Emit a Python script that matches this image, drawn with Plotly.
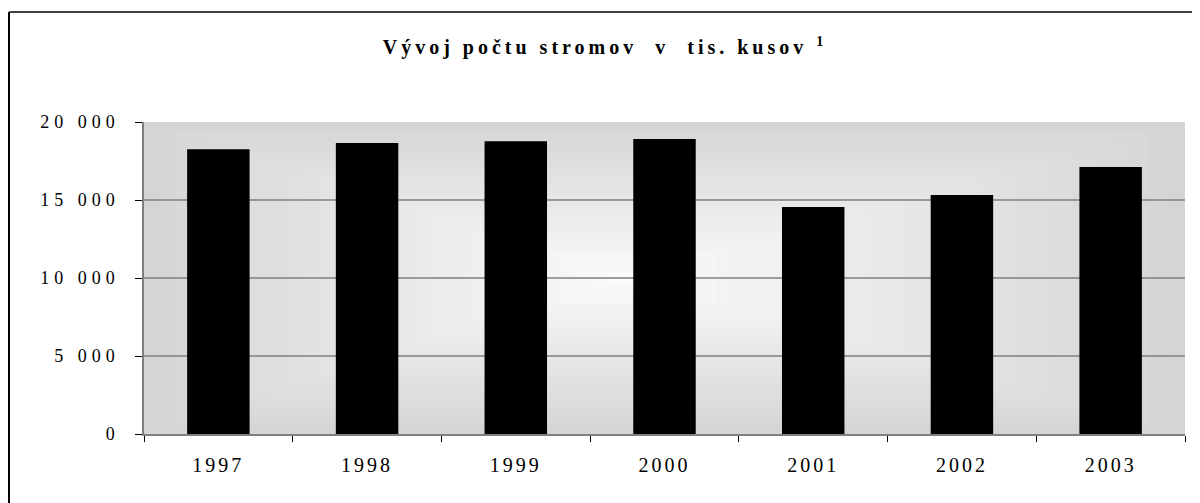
import plotly.graph_objects as go

years = ["1997", "1998", "1999", "2000", "2001", "2002", "2003"]
trees_thousands = [18250, 18650, 18760, 18910, 14550, 15320, 17110]
y_tick_values = [0, 5000, 10000, 15000, 20000]
y_tick_labels = ["0", "5 000", "10 000", "15 000", "20 000"]
title_text = "Vývoj počtu stromov  v  tis. kusov <sup>1</sup>"

W, H = 1200, 503
OFF = 8  # page body margin offset
SX0, SX1, SY0, SY1 = 144, 1185, 122, 434
ML, MT = SX0 - OFF, SY0 - OFF
MR, MB = W - (SX1 - OFF), H - (SY1 - OFF)
PW, PH = W - ML - MR, H - MT - MB
FONT = "Liberation Serif"


def spaced(s, ls):
    return f'<span style="letter-spacing:{ls}px">{s}</span>'


fig = go.Figure()
fig.add_trace(go.Bar(
    x=years, y=trees_thousands,
    marker=dict(color="#000000", line=dict(width=0)),
    width=0.42,
))

shapes = []
N = 30
cx, cy = 0.46, 0.5
c_edge, c_mid = 0xd5, 0xfb
for i in range(N):
    t = i / N
    c = int(round(c_edge + (c_mid - c_edge) * t))
    col = f"rgb({c},{c},{c})"
    shapes.append(dict(
        type="rect", xref="x domain", yref="y domain",
        x0=t * cx, x1=1 - t * (1 - cx), y0=t * cy, y1=1 - t * (1 - cy),
        fillcolor=col, line=dict(width=0), layer="below",
    ))
for v in y_tick_values[1:-1]:
    shapes.append(dict(
        type="line", xref="x domain", yref="y",
        x0=0, x1=1, y0=v, y1=v,
        line=dict(color="#7f7f7f", width=1.5), layer="below",
    ))
fx = (9 - OFF - ML) / PW
fy = 1 + (MT - (12 - OFF)) / PH
shapes.append(dict(type="line", xref="paper", yref="paper", x0=fx, x1=fx, y0=fy, y1=-1,
                   line=dict(color="#000000", width=2)))
shapes.append(dict(type="line", xref="paper", yref="paper", x0=fx, x1=2, y0=fy, y1=fy,
                   line=dict(color="#404040", width=2)))

fig.update_layout(
    width=W, height=H,
    margin=dict(l=ML, r=MR, t=MT, b=MB),
    paper_bgcolor="#ffffff",
    plot_bgcolor="#d5d5d5",
    showlegend=False,
    bargap=0.58,
    shapes=shapes,
    font=dict(family=FONT, color="#000000", size=18),
    title=dict(
        text=spaced(title_text, 4),
        font=dict(family=FONT, size=20, color="#000000", weight="bold"),
        x=(605 - OFF) / W, xref="container", xanchor="center",
        y=1 - (47 - OFF) / H, yref="container", yanchor="middle",
    ),
)
fig.update_xaxes(
    type="category",
    tickvals=years, ticktext=[spaced(y, 3) for y in years],
    showgrid=False,
    showline=True, linecolor="#808080", linewidth=1.5,
    ticks="outside", tickson="boundaries", ticklen=6, tickcolor="#000000", tickwidth=1,
    ticklabelstandoff=12,
    tickfont=dict(family=FONT, size=20),
)
fig.update_yaxes(
    range=[0, 20000],
    tickvals=y_tick_values, ticktext=[spaced(t, 5) for t in y_tick_labels],
    showgrid=False, zeroline=False,
    showline=True, linecolor="#808080", linewidth=1.5,
    ticks="outside", ticklen=7, tickcolor="#000000", tickwidth=1,
    ticklabelstandoff=12,
    tickfont=dict(family=FONT, size=18),
)

fig.write_html("out.html")
